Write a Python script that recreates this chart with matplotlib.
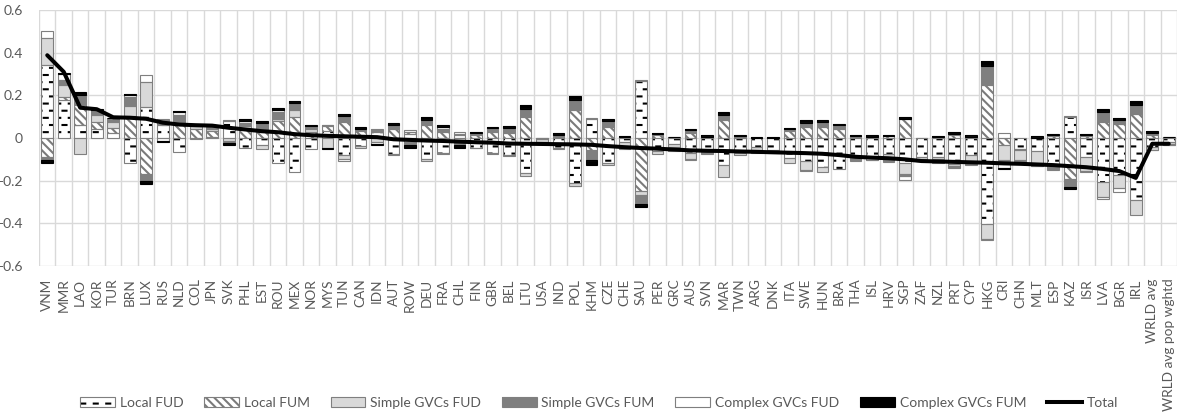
import matplotlib
matplotlib.use("Agg")
import matplotlib.pyplot as plt
import matplotlib.hatch as mhatch
from matplotlib.path import Path
from matplotlib.patches import Patch
from matplotlib.lines import Line2D
from matplotlib.legend_handler import HandlerTuple
import numpy as np

# ---------------------------------------------------------------- data
countries = [
    "VNM", "MMR", "LAO", "KOR", "TUR", "BRN", "LUX", "RUS", "NLD", "COL",
    "JPN", "SVK", "PHL", "EST", "ROU", "MEX", "NOR", "MYS", "TUN", "CAN",
    "IDN", "AUT", "ROW", "DEU", "FRA", "CHL", "FIN", "GBR", "BEL", "LTU",
    "USA", "IND", "POL", "KHM", "CZE", "CHE", "SAU", "PER", "GRC", "AUS",
    "SVN", "MAR", "TWN", "ARG", "DNK", "ITA", "SWE", "HUN", "BRA", "THA",
    "ISL", "HRV", "SGP", "ZAF", "NZL", "PRT", "CYP", "HKG", "CRI", "CHN",
    "MLT", "ESP", "KAZ", "ISR", "LVA", "BGR", "IRL", "WRLD avg",
    "WRLD avg pop wghtd",
]

local_fud = [
    0.344, 0.180, 0.060, 0.044, 0.025, -0.115, 0.145, 0.060, -0.065, -0.005,
    0.005, 0.080, -0.045, -0.034, -0.115, -0.160, -0.050, 0.035, -0.081, -0.037,
    0.030, -0.075, 0.020, -0.097, -0.070, 0.015, -0.045, -0.072, -0.080, -0.165,
    -0.005, -0.048, -0.212, 0.090, -0.115, -0.020, 0.268, -0.063, -0.029, -0.072,
    -0.065, -0.128, -0.070, -0.040, -0.055, -0.095, -0.108, -0.138, -0.144, -0.090,
    -0.095, -0.075, -0.115, -0.090, -0.090, -0.120, -0.082, -0.405, 0.025, -0.050,
    -0.060, -0.135, 0.098, -0.090, -0.205, -0.175, -0.290, -0.040, -0.018,
]
local_fum = [
    -0.089, 0.010, 0.093, 0.031, 0.020, 0.105, -0.167, 0.005, 0.065, 0.040,
    0.030, 0.003, 0.040, 0.028, 0.080, 0.098, 0.030, 0.020, 0.075, 0.031,
    0.005, 0.040, 0.010, 0.059, 0.030, 0.005, 0.015, 0.028, 0.025, 0.098,
    0.002, 0.005, 0.130, -0.058, 0.052, 0.003, -0.248, 0.012, 0.003, 0.023,
    0.004, 0.083, 0.005, 0.002, 0.001, 0.031, 0.052, 0.052, 0.040, 0.005,
    0.004, 0.008, 0.090, 0.002, 0.003, 0.015, 0.004, 0.247, -0.035, -0.008,
    0.002, 0.010, -0.190, 0.008, 0.075, 0.067, 0.114, 0.012, 0.005,
]
simple_fud = [
    0.125, 0.060, -0.073, 0.031, 0.030, 0.045, 0.1175, 0.010, 0.010, 0.015,
    0.005, -0.015, 0.015, -0.016, 0.010, 0.032, 0.010, -0.045, -0.016, -0.010,
    -0.020, -0.005, -0.020, -0.013, -0.003, -0.015, -0.003, -0.003, -0.003, -0.015,
    -0.012, 0.003, -0.013, 0.000, -0.013, -0.020, -0.021, -0.012, -0.012, -0.025,
    -0.005, -0.053, -0.008, -0.015, -0.008, -0.022, -0.040, -0.020, 0.008, -0.005,
    -0.007, -0.020, -0.055, -0.010, -0.008, -0.010, -0.040, -0.070, -0.070, -0.043,
    -0.065, -0.005, -0.005, -0.065, -0.070, -0.060, -0.070, -0.015, -0.010,
]
simple_fum = [
    -0.016, 0.020, 0.047, 0.023, 0.015, 0.040, -0.036, 0.015, 0.035, 0.003,
    0.012, -0.008, 0.015, 0.039, 0.030, 0.034, 0.012, 0.005, 0.027, 0.013,
    0.005, 0.015, -0.015, 0.027, 0.012, -0.020, 0.005, 0.012, 0.018, 0.040,
    -0.004, 0.004, 0.047, -0.047, 0.026, -0.005, -0.039, 0.005, -0.008, 0.013,
    0.003, 0.023, 0.002, -0.008, 0.000, 0.010, 0.020, 0.023, 0.012, -0.012,
    -0.003, -0.015, -0.008, -0.005, -0.010, -0.010, -0.005, 0.090, -0.005, -0.005,
    -0.005, -0.008, -0.033, -0.005, 0.047, 0.016, 0.039, 0.012, -0.004,
]
complex_fud = [
    0.031, 0.030, 0.000, 0.003, 0.003, 0.010, 0.035, -0.012, 0.010, 0.003,
    0.003, 0.000, 0.010, 0.003, 0.010, 0.000, 0.005, 0.003, -0.012, 0.000,
    -0.006, 0.005, 0.008, 0.000, 0.008, 0.008, 0.002, 0.005, 0.003, 0.000,
    -0.006, -0.003, -0.002, 0.004, 0.000, -0.006, 0.005, 0.003, -0.010, -0.005,
    -0.003, 0.000, 0.001, -0.005, -0.008, 0.000, -0.005, 0.000, 0.000, 0.003,
    0.000, -0.003, -0.017, -0.005, -0.008, 0.005, 0.002, -0.002, -0.030, -0.015,
    -0.002, 0.002, 0.005, 0.004, -0.013, -0.018, 0.000, -0.003, -0.002,
]
complex_fum = [
    -0.012, 0.005, 0.016, 0.002, 0.002, 0.008, -0.011, -0.005, 0.008, 0.002,
    0.003, -0.012, 0.008, 0.010, 0.010, 0.011, 0.006, -0.008, 0.012, 0.008,
    -0.008, 0.010, -0.010, 0.012, 0.010, -0.010, 0.006, 0.008, 0.010, 0.015,
    -0.003, 0.010, 0.020, -0.023, 0.010, 0.005, -0.015, 0.005, 0.002, 0.008,
    0.006, 0.014, 0.007, 0.001, 0.003, 0.008, 0.011, 0.011, 0.004, 0.008,
    0.008, 0.008, 0.010, 0.000, 0.005, 0.008, 0.008, 0.023, -0.006, 0.000,
    0.006, 0.008, -0.012, 0.008, 0.015, 0.012, 0.019, 0.007, 0.002,
]
total = [
    0.388, 0.310, 0.142, 0.135, 0.097, 0.095, 0.090, 0.072, 0.063, 0.060,
    0.058, 0.048, 0.040, 0.032, 0.027, 0.018, 0.013, 0.010, 0.008, 0.006,
    0.004, -0.006, -0.009, -0.012, -0.014, -0.017, -0.020, -0.022, -0.026, -0.027,
    -0.028, -0.029, -0.030, -0.032, -0.038, -0.043, -0.047, -0.050, -0.054, -0.058,
    -0.060, -0.061, -0.063, -0.065, -0.067, -0.069, -0.071, -0.074, -0.080, -0.088,
    -0.092, -0.095, -0.100, -0.108, -0.110, -0.112, -0.114, -0.116, -0.119, -0.121,
    -0.124, -0.127, -0.132, -0.137, -0.145, -0.155, -0.187, -0.027, -0.027,
]

series_labels = ["Local FUD", "Local FUM", "Simple GVCs FUD", "Simple GVCs FUM",
                 "Complex GVCs FUD", "Complex GVCs FUM"]
total_label = "Total"
y_ticks = [-0.6, -0.4, -0.2, 0.0, 0.2, 0.4, 0.6]
y_tick_labels = ["-0.6", "-0.4", "-0.2", "0", "0.2", "0.4", "0.6"]


# ------------------------------------------------ short staggered dashes
class ShortDashHatch(mhatch.HatchPatternBase):
    """Rows of short horizontal dashes, every other row shifted by half a period."""
    rows = 14
    cols = 8
    dash = 0.04

    def __init__(self, hatch, density):
        self.n_rows = self.rows if "-" in hatch else 0
        self.num_vertices = self.n_rows * self.cols * 2

    def set_vertices_and_codes(self, vertices, codes):
        k = 0
        for r in range(self.n_rows):
            y = (r + 0.5) / self.n_rows
            shift = 0.5 / self.cols if r % 2 else 0.0
            for c in range(self.cols):
                x0 = c / self.cols + shift
                vertices[k] = (x0, y)
                vertices[k + 1] = (x0 + self.dash, y)
                codes[k] = Path.MOVETO
                codes[k + 1] = Path.LINETO
                k += 2


mhatch._hatch_types = [ShortDashHatch if t is mhatch.HorizontalHatch else t
                       for t in mhatch._hatch_types]

# ---------------------------------------------------------------- style
plt.rcParams["font.family"] = ["Lato", "DejaVu Sans"]
plt.rcParams["hatch.linewidth"] = 1.5
TEXT = "#595959"
GRID = "#d9d9d9"
RIM = "#7f7f7f"

styles = [
    dict(face="white", hatch="-", hatch_color="black", edge=RIM),
    dict(face="white", hatch="\\\\\\\\", hatch_color="#7a7a7a", edge=RIM),
    dict(face="#d9d9d9", hatch=None, hatch_color=RIM, edge=RIM),
    dict(face="#7f7f7f", hatch=None, hatch_color=RIM, edge=RIM),
    dict(face="white", hatch=None, hatch_color=RIM, edge=RIM),
    dict(face="black", hatch=None, hatch_color="black", edge="black"),
]

series = [local_fud, local_fum, simple_fud, simple_fum, complex_fud, complex_fum]
n = len(countries)
x = np.arange(n)
bar_w = 0.71

fig = plt.figure(figsize=(11.8, 4.16), dpi=100)
ax = fig.add_axes([39 / 1180, 1 - 266 / 416, (1177 - 39) / 1180, 256 / 416])

# stacked bars: positives build upward from zero, negatives downward
pos = np.zeros(n)
neg = np.zeros(n)
for vals, st in zip(series, styles):
    v = np.asarray(vals, dtype=float)
    bottom = np.where(v >= 0, pos, neg)
    m = v != 0
    ax.bar(x[m], v[m], bar_w, bottom=bottom[m], color=st["face"],
           hatch=st["hatch"], edgecolor=st["hatch_color"], linewidth=0,
           zorder=2)
    ax.bar(x[m], v[m], bar_w, bottom=bottom[m], fill=False,
           edgecolor=st["edge"], linewidth=0.8, zorder=2.5)
    pos = pos + np.where(v > 0, v, 0)
    neg = neg + np.where(v < 0, v, 0)

ax.plot(x, total, color="black", linewidth=2.9, solid_joinstyle="round",
        solid_capstyle="round", zorder=4)

# axes, grid and ticks
ax.set_xlim(-0.5, n - 0.5)
ax.set_ylim(-0.6, 0.6)
ax.set_yticks(y_ticks)
ax.set_yticklabels(y_tick_labels)
ax.set_xticks(x)
ax.set_xticklabels(countries, rotation=90, va="top", ha="center")
ax.set_xticks(np.arange(n + 1) - 0.5, minor=True)
ax.tick_params(axis="both", which="both", length=0, colors=TEXT)
ax.tick_params(axis="x", which="major", pad=9, labelsize=9.8)
ax.tick_params(axis="y", pad=11.5, labelsize=10)
ax.grid(axis="y", which="major", color=GRID, linewidth=1.0)
ax.grid(axis="x", which="minor", color=GRID, linewidth=1.0)
ax.grid(axis="x", which="major", visible=False)
ax.set_axisbelow(True)
for s in ax.spines.values():
    s.set_visible(False)

# legend
handles = []
for st in styles:
    fill = Patch(facecolor=st["face"], hatch=st["hatch"],
                 edgecolor=st["hatch_color"], linewidth=0)
    rim = Patch(facecolor="none", edgecolor=st["edge"], linewidth=0.8)
    handles.append((fill, rim))
handles.append(Line2D([], [], color="black", linewidth=2.9))
fig.legend(handles, series_labels + [total_label],
           handler_map={tuple: HandlerTuple(ndivide=1)},
           loc="center", bbox_to_anchor=(599 / 1180, 1 - 403 / 416),
           ncol=7, frameon=False, fontsize=10, labelcolor=TEXT,
           handlelength=2.5, handleheight=0.7, handletextpad=0.35,
           columnspacing=1.5, borderpad=0, borderaxespad=0)

fig.savefig("out.png", dpi=100)
